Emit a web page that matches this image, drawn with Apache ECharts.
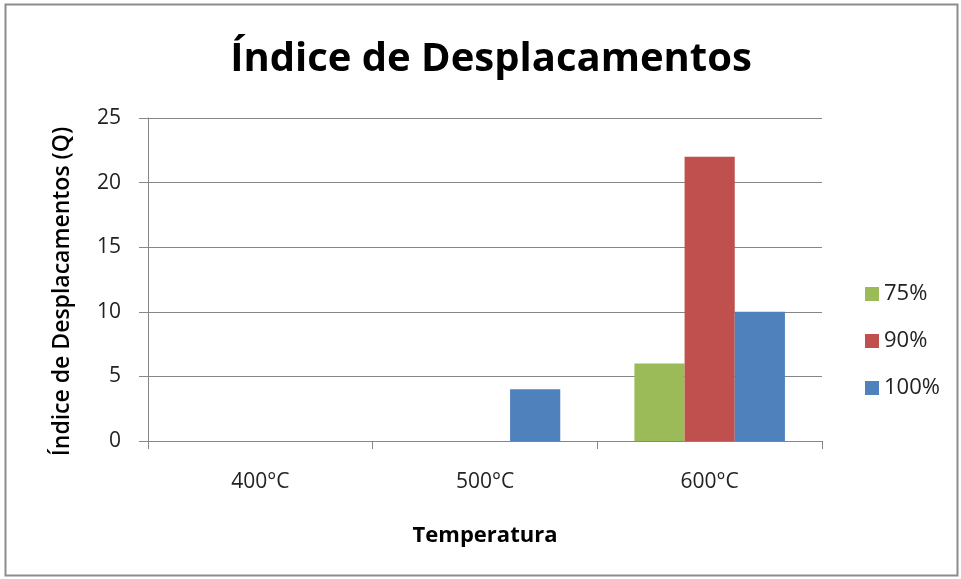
<!DOCTYPE html>
<html>
<head>
<meta charset="utf-8">
<script src="https://cdn.jsdelivr.net/npm/echarts@6/dist/echarts.min.js"></script>
<style>
  html, body { margin: 0; padding: 0; background: #fff; }
  #chart { width: 961px; height: 579px; }
</style>
</head>
<body>
<div id="chart"></div>
<script>
// dados do gráfico
const categories = ['400°C', '500°C', '600°C'];
const serie75 = [0, 0, 6];
const serie90 = [0, 0, 22];
const serie100 = [0, 4, 10];
const seriesNames = ['75%', '90%', '100%'];
const colors = ['#9bbb59', '#c0504d', '#4f81bd'];

const myChart = echarts.init(document.getElementById('chart'));
const font = 'Open Sans, sans-serif';

function barSeries(name, data, color) {
  return {
    name: name,
    type: 'bar',
    data: data,
    barGap: '0%',
    barCategoryGap: '33%',
    itemStyle: { color: color }
  };
}

myChart.setOption({
  backgroundColor: '#fff',
  graphic: [{
    type: 'rect',
    shape: { x: 5.5, y: 4.5, width: 952, height: 571 },
    style: { fill: 'none', stroke: '#8c8c8c', lineWidth: 2 },
    silent: true
  }],
  title: {
    text: 'Índice de Desplacamentos',
    left: 486,
    textAlign: 'center',
    top: 35,
    textStyle: { fontFamily: font, fontSize: 40, fontWeight: 'bold', color: '#000' }
  },
  legend: {
    orient: 'vertical',
    left: 860,
    top: 278,
    itemGap: 25,
    itemWidth: 14,
    itemHeight: 14,
    icon: 'rect',
    data: seriesNames,
    textStyle: { fontFamily: font, fontSize: 22, color: '#222' }
  },
  grid: { left: 148, right: 139, top: 118, bottom: 138 },
  xAxis: {
    type: 'category',
    data: categories,
    name: 'Temperatura',
    nameLocation: 'middle',
    nameGap: 84,
    nameTextStyle: { fontFamily: font, fontSize: 22, fontWeight: 'bold', color: '#000' },
    axisLine: { lineStyle: { color: '#868686' } },
    axisTick: { show: true, length: 8, lineStyle: { color: '#868686' } },
    axisLabel: { fontFamily: font, fontSize: 21, color: '#222', margin: 31 }
  },
  yAxis: {
    type: 'value',
    min: 0,
    max: 25,
    interval: 5,
    name: 'Índice de Desplacamentos (Q)',
    nameLocation: 'middle',
    nameGap: 74,
    nameTextStyle: { fontFamily: font, fontSize: 23, fontWeight: 600, color: '#000', padding: [0, 24, 0, 0] },
    axisLine: { show: true, lineStyle: { color: '#868686' } },
    axisTick: { show: true, length: 9, lineStyle: { color: '#868686' } },
    axisLabel: { fontFamily: font, fontSize: 21, color: '#222', margin: 27 },
    splitLine: { lineStyle: { color: '#868686' } }
  },
  series: [
    barSeries(seriesNames[0], serie75, colors[0]),
    barSeries(seriesNames[1], serie90, colors[1]),
    barSeries(seriesNames[2], serie100, colors[2])
  ]
});
</script>
</body>
</html>
